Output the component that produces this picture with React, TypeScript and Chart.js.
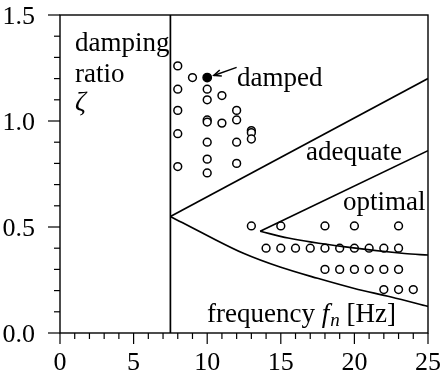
import React, { useEffect, useRef } from "react";
import { Chart, registerables } from "chart.js";
Chart.register(...registerables);

// ---- data ----
const xTickValues = [0, 5, 10, 15, 20, 25];
const yTickValues = [0.0, 0.5, 1.0, 1.5];

// damped region (open circles)
const dampedX = [8, 8, 8, 8, 8, 9, 10, 10, 10, 10, 10, 10, 10, 11, 11, 12, 12, 12, 12, 13, 13, 13];
const dampedY = [1.26, 1.15, 1.05, 0.94, 0.785, 1.205, 1.15, 1.1, 1.005, 0.995, 0.9, 0.82, 0.755, 1.12, 0.99, 1.05, 1.005, 0.9, 0.8, 0.955, 0.945, 0.915];

// highlighted (filled) point
const markedX = [10];
const markedY = [1.205];

// lower cluster (open circles)
const lowX = [13, 15, 18, 20, 23, 14, 15, 16, 17, 18, 19, 20, 21, 22, 23, 18, 19, 20, 21, 22, 23, 22, 23, 24];
const lowY = [0.505, 0.505, 0.505, 0.505, 0.505, 0.4, 0.4, 0.4, 0.4, 0.4, 0.4, 0.4, 0.4, 0.4, 0.4, 0.3, 0.3, 0.3, 0.3, 0.3, 0.3, 0.205, 0.205, 0.205];

// boundary lines
const verticalX = [7.5, 7.5];
const verticalY = [0, 1.5];
const adequateX = [7.5, 25];
const adequateY = [0.55, 1.2];
const lowerBoundX = [7.5, 10, 12.5, 15, 17.5, 20, 22.5, 25];
const lowerBoundY = [0.55, 0.46, 0.375, 0.31, 0.258, 0.21, 0.17, 0.125];
const optUpperX = [13.6, 25];
const optUpperY = [0.48, 0.86];
const optLowerX = [13.6, 15.5, 19.25, 23.4, 25];
const optLowerY = [0.48, 0.448, 0.407, 0.375, 0.368];

// annotation anchors (data coords)
const textLabels = [
  { text: "damping", x: 1.02, y: 1.33 },
  { text: "ratio", x: 1.02, y: 1.184 },
  { text: "damped", x: 12.02, y: 1.165 },
  { text: "adequate", x: 16.71, y: 0.816 },
  { text: "optimal", x: 19.23, y: 0.58 },
];
const zetaPos = { x: 1.02, y: 1.052 };
const freqPos = { x: 9.99, y: 0.052 };
const arrowFrom = { x: 12.0, y: 1.253 };
const arrowTo = { x: 10.45, y: 1.215 };

const pts = (xs: number[], ys: number[]) => xs.map((x, i) => ({ x, y: ys[i] }));

const FONT = '"Liberation Serif", "Times New Roman", serif';
const FS = 26;
const AFS = 27;

const decorPlugin = {
  id: "decor",
  afterDraw(chart: any) {
    const { ctx, chartArea: a, scales } = chart;
    const xs = scales.x, ys = scales.y;
    ctx.save();
    ctx.strokeStyle = "#000";
    ctx.fillStyle = "#000";
    ctx.lineWidth = 1.4;
    ctx.strokeRect(a.left, a.top, a.right - a.left, a.bottom - a.top);
    // ticks
    ctx.lineWidth = 1.2;
    for (let i = 0; i <= 25; i++) {
      const px = xs.getPixelForValue(i);
      const len = i % 5 === 0 ? 11 : 6;
      ctx.beginPath();
      ctx.moveTo(px, a.bottom);
      ctx.lineTo(px, a.bottom + len);
      ctx.stroke();
    }
    for (let i = 0; i <= 15; i++) {
      const py = ys.getPixelForValue(i / 10);
      const len = i % 5 === 0 ? 12 : 6;
      ctx.beginPath();
      ctx.moveTo(a.left, py);
      ctx.lineTo(a.left - len, py);
      ctx.stroke();
    }
    // tick labels
    ctx.font = `${FS}px ${FONT}`;
    ctx.textBaseline = "alphabetic";
    ctx.textAlign = "center";
    for (const v of xTickValues) {
      ctx.fillText(String(v), xs.getPixelForValue(v), a.bottom + 37);
    }
    ctx.textAlign = "right";
    for (const v of yTickValues) {
      ctx.fillText(v.toFixed(1), a.left - 25, ys.getPixelForValue(v) + 8.5);
    }
    // texts
    ctx.textAlign = "left";
    ctx.font = `${AFS}px ${FONT}`;
    for (const t of textLabels) {
      ctx.fillText(t.text, xs.getPixelForValue(t.x), ys.getPixelForValue(t.y));
    }
    ctx.font = `italic ${AFS}px ${FONT}`;
    ctx.fillText("ζ", xs.getPixelForValue(zetaPos.x), ys.getPixelForValue(zetaPos.y));
    // frequency f_n [Hz]
    let fx = xs.getPixelForValue(freqPos.x);
    const fy = ys.getPixelForValue(freqPos.y);
    ctx.font = `${AFS}px ${FONT}`;
    ctx.fillText("frequency ", fx, fy);
    fx += ctx.measureText("frequency ").width;
    ctx.font = `italic ${AFS}px ${FONT}`;
    ctx.fillText("f", fx, fy);
    fx += ctx.measureText("f").width + 1;
    ctx.font = `italic 19px ${FONT}`;
    ctx.fillText("n", fx, fy + 4);
    fx += ctx.measureText("n").width;
    ctx.font = `${AFS}px ${FONT}`;
    ctx.fillText(" [Hz]", fx, fy);
    // arrow
    const x1 = xs.getPixelForValue(arrowFrom.x), y1 = ys.getPixelForValue(arrowFrom.y);
    const x2 = xs.getPixelForValue(arrowTo.x), y2 = ys.getPixelForValue(arrowTo.y);
    ctx.lineWidth = 1.5;
    ctx.beginPath();
    ctx.moveTo(x1, y1);
    ctx.lineTo(x2, y2);
    ctx.stroke();
    const ang = Math.atan2(y2 - y1, x2 - x1);
    const hl = 8;
    ctx.beginPath();
    ctx.moveTo(x2 - hl * Math.cos(ang - 0.4), y2 - hl * Math.sin(ang - 0.4));
    ctx.lineTo(x2, y2);
    ctx.lineTo(x2 - hl * Math.cos(ang + 0.4), y2 - hl * Math.sin(ang + 0.4));
    ctx.stroke();
    ctx.restore();
  },
};

export default function App() {
  const ref = useRef<HTMLCanvasElement | null>(null);
  useEffect(() => {
    if (!ref.current) return;
    const lineDs = (xs: number[], ys: number[], curved = false) => ({
      type: "line" as const,
      data: pts(xs, ys),
      borderColor: "#000",
      borderWidth: 1.7,
      pointRadius: 0,
      showLine: true,
      fill: false,
      tension: curved ? 0.4 : 0,
      cubicInterpolationMode: curved ? ("monotone" as const) : ("default" as const),
    });
    const chart = new Chart(ref.current, {
      type: "scatter",
      data: {
        datasets: [
          lineDs(verticalX, verticalY),
          lineDs(adequateX, adequateY),
          lineDs(lowerBoundX, lowerBoundY, true),
          lineDs(optUpperX, optUpperY),
          lineDs(optLowerX, optLowerY, true),
          {
            data: pts(dampedX, dampedY),
            pointRadius: 3.9,
            pointBorderWidth: 1.5,
            pointBackgroundColor: "#fff",
            pointBorderColor: "#000",
          },
          {
            data: pts(lowX, lowY),
            pointRadius: 3.9,
            pointBorderWidth: 1.5,
            pointBackgroundColor: "#fff",
            pointBorderColor: "#000",
          },
          {
            data: pts(markedX, markedY),
            pointRadius: 4.2,
            pointBorderWidth: 1.4,
            pointBackgroundColor: "#000",
            pointBorderColor: "#000",
          },
        ] as any,
      },
      options: {
        responsive: false,
        animation: false,
        devicePixelRatio: 1,
        layout: { padding: { left: 0, top: 15, right: 13, bottom: 0 } },
        plugins: { legend: { display: false }, tooltip: { enabled: false } },
        scales: {
          x: {
            type: "linear",
            min: 0,
            max: 25,
            afterFit: (s: any) => { s.height = 43; s.paddingLeft = 0; s.paddingRight = 0; },
            ticks: { display: false },
            grid: { display: false },
            border: { display: false },
          },
          y: {
            type: "linear",
            min: 0,
            max: 1.5,
            afterFit: (s: any) => { s.width = 60; s.paddingTop = 0; s.paddingBottom = 0; },
            ticks: { display: false },
            grid: { display: false },
            border: { display: false },
          },
        },
      },
      plugins: [decorPlugin],
    });
    return () => chart.destroy();
  }, []);
  return (
    <div style={{ position: "absolute", left: 0, top: 0, width: 441, height: 376, background: "#fff" }}>
      <canvas ref={ref} width={441} height={376} style={{ width: 441, height: 376, display: "block" }} />
    </div>
  );
}
